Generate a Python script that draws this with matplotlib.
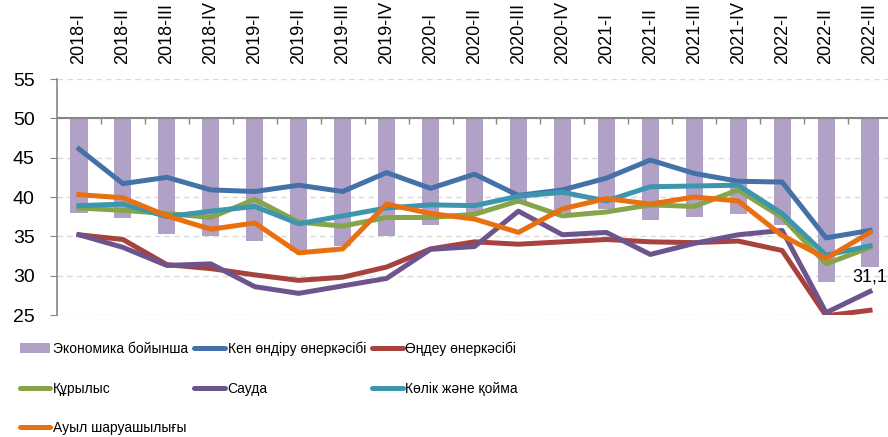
import matplotlib
matplotlib.use("Agg")
import matplotlib.pyplot as plt
import numpy as np

plt.rcParams['font.family'] = ['Liberation Sans', 'DejaVu Sans']

# quarters
quarters = ['2018-I', '2018-II', '2018-III', '2018-IV',
            '2019-I', '2019-II', '2019-III', '2019-IV',
            '2020-I', '2020-II', '2020-III', '2020-IV',
            '2021-I', '2021-II', '2021-III', '2021-IV',
            '2022-I', '2022-II', '2022-III']

# bars (hang down from 50)
economy = [38.0, 37.3, 35.3, 35.1, 34.4, 33.1, 33.8, 35.1, 36.4, 38.0,
           39.1, 38.0, 38.5, 37.1, 37.5, 37.9, 36.5, 29.2, 31.1]

mining = [46.1, 41.7, 42.5, 40.9, 40.7, 41.5, 40.7, 43.1, 41.1, 42.9,
          40.2, 40.9, 42.4, 44.7, 43.0, 42.0, 41.9, 34.8, 35.75]
manufacturing = [35.2, 34.6, 31.4, 30.9, 30.1, 29.4, 29.8, 31.1, 33.4, 34.3,
                 34.0, 34.3, 34.6, 34.3, 34.2, 34.4, 33.2, 24.9, 25.6]
construction = [38.6, 38.3, 37.9, 37.4, 39.7, 36.8, 36.3, 37.4, 37.4, 37.8,
                39.5, 37.6, 38.1, 39.0, 38.8, 40.9, 37.4, 31.5, 33.6]
trade = [35.2, 33.6, 31.3, 31.5, 28.6, 27.75, 28.7, 29.65, 33.35, 33.7,
         38.2, 35.2, 35.5, 32.7, 34.1, 35.2, 35.75, 25.3, 28.0]
transport = [38.9, 39.1, 37.5, 38.2, 38.8, 36.6, 37.6, 38.6, 39.0, 38.9,
             40.1, 40.6, 39.5, 41.3, 41.4, 41.5, 37.9, 32.6, 33.8]
agriculture = [40.3, 39.9, 37.6, 35.9, 36.7, 32.9, 33.4, 39.1, 37.9, 37.2,
               35.5, 38.5, 39.8, 39.1, 40.0, 39.5, 35.1, 32.2, 35.5]

x = np.arange(len(quarters))

fig = plt.figure(figsize=(8.88, 4.37), dpi=100)
ax = fig.add_axes([57 / 888, 122 / 437, 835 / 888, 236 / 437])

bars = ax.bar(x, np.array(economy) - 50, bottom=50, width=0.39,
              color='#B2A1C7', zorder=2, label='Экономика бойынша')

lw = 3.6
l_min, = ax.plot(x, mining, color='#4472A8', lw=lw, zorder=3, label='Кен өндіру өнеркәсібі')
l_man, = ax.plot(x, manufacturing, color='#A8423F', lw=lw, zorder=3, label='Өңдеу өнеркәсібі')
l_con, = ax.plot(x, construction, color='#86A44A', lw=lw, zorder=3, label='Құрылыс')
l_tr, = ax.plot(x, trade, color='#6E548D', lw=lw, zorder=3, label='Сауда')
l_tp, = ax.plot(x, transport, color='#3D96AE', lw=lw, zorder=3, label='Көлік және қойма')
l_ag, = ax.plot(x, agriculture, color='#E8700F', lw=lw, zorder=3, label='Ауыл шаруашылығы')

# value label for the last bar
ax.annotate('31,1', (x[-1], economy[-1]), xytext=(0, -1), textcoords='offset points',
            ha='center', va='top', fontsize=13, zorder=5)

ax.set_xlim(-0.5, len(quarters) - 0.5)
ax.set_ylim(25, 55)
ax.set_yticks([25, 30, 35, 40, 45, 50, 55])
ax.grid(axis='y', color='#D9D9D9', linestyle=(0, (4, 3)), lw=1.0, zorder=0)

# category axis sits at 50
ax.axhline(50, color='#868686', lw=1.5, zorder=4)
ax.vlines(x[:-1] + 0.5, 49.25, 50, color='#868686', lw=1.0, zorder=4)

ax.xaxis.tick_top()
ax.set_xticks(x)
ax.set_xticklabels(quarters, rotation=90, fontsize=13)
ax.tick_params(axis='x', length=0, pad=11)
ax.tick_params(axis='y', labelsize=14, length=5, color='#868686', pad=11)

for s in ['top', 'right', 'bottom']:
    ax.spines[s].set_visible(False)
ax.spines['left'].set_color('#868686')
ax.spines['left'].set_linewidth(1.2)

handles = [bars, l_con, l_ag, l_min, l_tr, l_man, l_tp]
leg = fig.legend(handles=handles, labels=[h.get_label() for h in handles],
                 loc='upper left', bbox_to_anchor=(7 / 888, 1 - 329 / 437), ncol=3,
                 frameon=False, handlelength=2.2, handletextpad=0.2, columnspacing=0.45,
                 labelspacing=1.85, prop={'size': 10})
for h in leg.legend_handles[1:]:
    h.set_solid_capstyle('round')

fig.savefig('out.png', dpi=100)
